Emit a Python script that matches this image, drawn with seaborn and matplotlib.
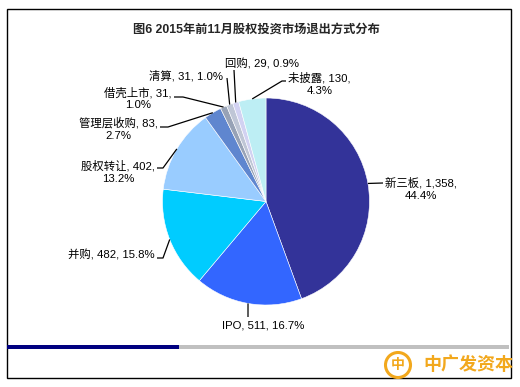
import numpy as np
import matplotlib
matplotlib.use("Agg")
import matplotlib.pyplot as plt
from matplotlib.patches import Rectangle, Circle
import seaborn as sns

# data
categories = ["新三板", "IPO", "并购", "股权转让", "管理层收购", "借壳上市", "清算", "回购", "未披露"]
counts = [1358, 511, 482, 402, 83, 31, 31, 29, 130]
pct_labels = ["44.4%", "16.7%", "15.8%", "13.2%", "2.7%", "1.0%", "1.0%", "0.9%", "4.3%"]
title = "图6 2015年前11月股权投资市场退出方式分布"
brand = "中广发资本"

colors = ["#333399", "#3366FF", "#00CCFF", "#99CCFF", "#5F86CF",
          "#97A2B6", "#BFC6D6", "#D2D2F2", "#BDEEF4"]

W, H = 520, 387
sns.set_theme(style="white")
plt.rcParams['font.family'] = ['Liberation Sans', 'Noto Sans CJK SC', 'DejaVu Sans']


def P(px, py):
    # image pixel coords -> axes coords
    return (px, H - py)


fig = plt.figure(figsize=(W / 100, H / 100), dpi=100)
ax = fig.add_axes([0, 0, 1, 1])

cx, cy, r = 266, 201.5, 103.5
wedges, _ = ax.pie(counts, colors=colors, startangle=90, counterclock=False,
                   center=P(cx, cy), radius=r, frame=True,
                   wedgeprops=dict(edgecolor="white", linewidth=0.4))
ax.set_xlim(0, W)
ax.set_ylim(0, H)
ax.set_aspect("equal")
ax.axis("off")

# label layout: text anchor, alignment, leader line points (pixels)
layout = [
    dict(xy=(385, 177), ha="left", nl=True, line=[(383, 183)]),
    dict(xy=(263, 320), ha="center", nl=False, line=[(248, 317)]),
    dict(xy=(155, 249), ha="right", nl=False, line=[(163, 258), (157, 258)]),
    dict(xy=(155, 160), ha="right", nl=True, line=[(163, 168), (157, 168)]),
    dict(xy=(158, 117), ha="right", nl=True, line=[(168, 127), (160, 127)]),
    dict(xy=(172, 87), ha="right", nl=True, line=[(183, 97), (174, 97)]),
    dict(xy=(223, 70), ha="right", nl=False, line=[(227, 78)]),
    dict(xy=(225, 58), ha="left", nl=False, line=[(234, 70)]),
    dict(xy=(288, 72), ha="left", nl=True, line=[(282, 81), (286, 81)]),
]

total = sum(counts)
cum = 0
for name, n, pct, lay in zip(categories, counts, pct_labels, layout):
    mid = (cum + n / 2) / total * 360
    cum += n
    sx = cx + r * np.sin(np.radians(mid))
    sy = cy - r * np.cos(np.radians(mid))
    pts = [(sx, sy)] + lay["line"]
    xs = [P(*p)[0] for p in pts]
    ys = [P(*p)[1] for p in pts]
    ax.plot(xs, ys, color="black", lw=0.9, solid_capstyle="butt")
    sep = ",\n" if lay["nl"] else ", "
    txt = f"{name}, {n:,}{sep}{pct}"
    ax.text(*P(*lay["xy"]), txt, ha=lay["ha"], va="top", fontsize=8.2,
            multialignment="center", linespacing=1.25, color="black")

# title
ax.text(*P(256, 30), title, ha="center", va="center", fontsize=8.8,
        fontweight="bold", family=["Liberation Sans", "Noto Sans CJK SC"])

# frame
ax.add_patch(Rectangle(P(7, 378), 504, 369, fill=False, edgecolor="black", lw=1))

# bottom bar
ax.add_patch(Rectangle(P(7, 349), 172, 4, color="#000080", lw=0))
ax.add_patch(Rectangle(P(179, 349), 330, 4, color="#C0C0C0", lw=0))

# brand logo
orange = "#F2A81D"
ax.add_patch(Circle(P(398, 365), 12.5, fill=False, edgecolor=orange, lw=2.2))
ax.text(*P(398, 365), "中", ha="center", va="center", fontsize=10,
        fontweight="bold", color=orange, family=["Noto Sans CJK SC"])
ax.text(*P(423, 365), brand, ha="left", va="center", fontsize=13,
        fontweight="bold", color=orange, family=["Noto Sans CJK SC"])

fig.savefig("out.png", dpi=100, facecolor="white")
